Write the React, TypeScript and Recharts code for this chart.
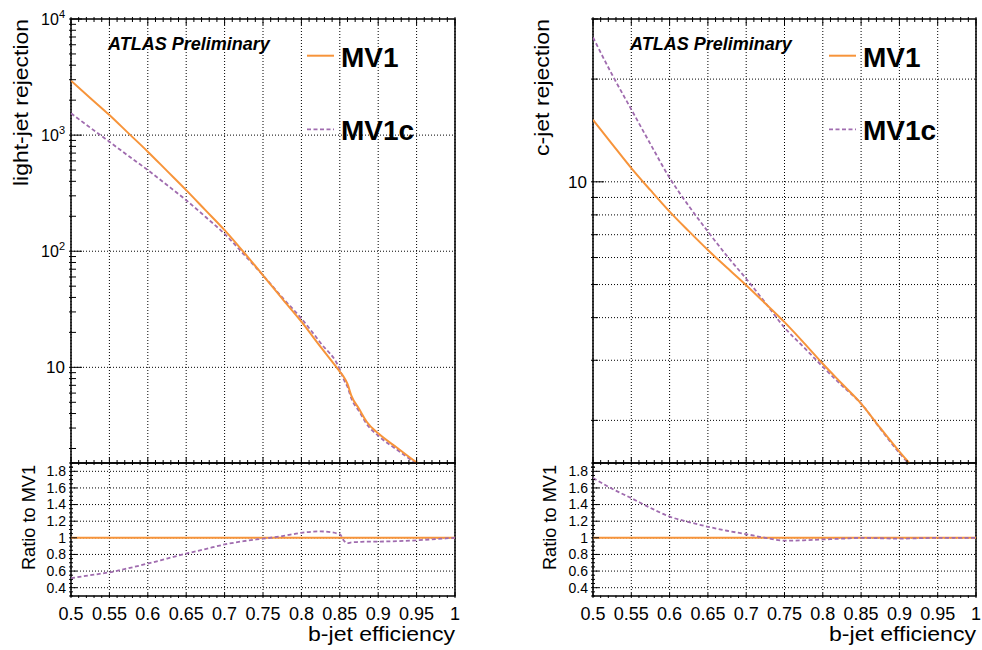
import { CartesianGrid, Line, LineChart, ReferenceArea, XAxis, YAxis } from "recharts"

const FONT = "'Liberation Sans', Arial, Helvetica, sans-serif"
const ORANGE = "#f7943a"
const PURPLE = "#a06caf"
const DASH = "4 2.5"
const GRID_DASH = "1 2"

const seriesNames = ["MV1", "MV1c"]

// light-jet rejection vs b-jet efficiency
const lightEff = [
  0.5, 0.525, 0.55, 0.575, 0.6, 0.625, 0.65, 0.675, 0.7, 0.725, 0.75, 0.775, 0.8,
  0.825, 0.85, 0.855, 0.86, 0.865, 0.875, 0.885, 0.9, 0.925, 0.95, 0.975, 1.0,
]
const lightMV1 = [
  2940, 2090, 1490, 1035, 720, 492, 336, 226, 152, 98, 62, 39, 24.7, 15, 9.2, 8.3,
  7.2, 5.7, 4.4, 3.4, 2.7, 2.02, 1.52, 1.2, 1.0,
]
const lightMV1c = [
  1540, 1160, 877, 660, 500, 372, 275, 198, 141, 94, 62, 40, 26.3, 16.2, 9.6, 7.9,
  6.8, 5.4, 4.2, 3.25, 2.58, 1.94, 1.48, 1.18, 1.0,
]
const lightRatioMV1 = [
  1, 1, 1, 1, 1, 1, 1, 1, 1, 1, 1, 1, 1, 1, 1, 1, 1, 1, 1, 1, 1, 1, 1, 1, 1,
]
const lightRatioMV1c = [
  0.515, 0.55, 0.585, 0.635, 0.69, 0.75, 0.81, 0.865, 0.92, 0.96, 0.99, 1.02, 1.06,
  1.077, 1.045, 0.97, 0.935, 0.945, 0.95, 0.955, 0.955, 0.96, 0.97, 0.985, 1.0,
]

// c-jet rejection vs b-jet efficiency
const charmEff = [
  0.5, 0.525, 0.55, 0.575, 0.6, 0.625, 0.65, 0.675, 0.7, 0.725, 0.75, 0.775, 0.8,
  0.825, 0.85, 0.875, 0.9, 0.925, 0.95, 0.975, 1.0,
]
const charmMV1 = [
  15.2, 12.9, 10.97, 9.45, 8.18, 7.17, 6.31, 5.6, 4.98, 4.4, 3.88, 3.38, 2.93, 2.56,
  2.24, 1.9, 1.62, 1.4, 1.22, 1.1, 1.0,
]
const charmMV1c = [
  26.5, 20.6, 16.3, 12.9, 10.27, 8.5, 7.15, 6.06, 5.2, 4.42, 3.74, 3.28, 2.87, 2.53,
  2.24, 1.89, 1.605, 1.39, 1.22, 1.1, 1.0,
]
const charmRatioMV1 = [1, 1, 1, 1, 1, 1, 1, 1, 1, 1, 1, 1, 1, 1, 1, 1, 1, 1, 1, 1, 1]
const charmRatioMV1c = [
  1.72, 1.59, 1.477, 1.36, 1.255, 1.19, 1.133, 1.085, 1.044, 1.0, 0.965, 0.97, 0.98,
  0.99, 1.0, 0.995, 0.99, 0.995, 1.0, 1.0, 1.0,
]

// axis ticks
const effMajor = [0.5, 0.55, 0.6, 0.65, 0.7, 0.75, 0.8, 0.85, 0.9, 0.95, 1]
const effTicks = effMajor.flatMap((m, i) =>
  i === effMajor.length - 1
    ? [m]
    : [0, 0.01, 0.02, 0.03, 0.04].map((d) => +(m + d).toFixed(2))
)
const lightMajor = [10, 100, 1000, 10000]
const lightTicks = [1, 10, 100, 1000]
  .flatMap((d) => [2, 3, 4, 5, 6, 7, 8, 9].map((k) => k * d))
  .concat(lightMajor)
  .filter((v) => v >= 1.5 && v <= 10000)
const charmMajor = [10]
const charmTicks = [2, 3, 4, 5, 6, 7, 8, 9, 10, 20, 30]
const ratioMajor = [0.4, 0.6, 0.8, 1, 1.2, 1.4, 1.6, 1.8]
const ratioTicks = ratioMajor
  .flatMap((m) => [-0.1, -0.05, 0, 0.05].map((d) => +(m + d).toFixed(2)))
  .concat([1.85, 1.9])

const lightData = lightEff.map((eff, i) => ({
  eff,
  mv1: lightMV1[i],
  mv1c: lightMV1c[i],
  r1: lightRatioMV1[i],
  rc: lightRatioMV1c[i],
}))
const charmData = charmEff.map((eff, i) => ({
  eff,
  mv1: charmMV1[i],
  mv1c: charmMV1c[i],
  r1: charmRatioMV1[i],
  rc: charmRatioMV1c[i],
}))

const isEffMajor = (v: number) => Math.abs(v * 20 - Math.round(v * 20)) < 1e-6
const fmtEff = (v: number) => String(Number(v.toFixed(2)))

function xTick(up: boolean, major: number, minor: number, labels: boolean) {
  return (props: any) => {
    const x = Number(props.x)
    const y = Number(props.y)
    const v = props.payload.value as number
    const big = isEffMajor(v)
    const len = big ? major : minor
    return (
      <g>
        <path d={`M${x},${y}V${up ? y - len : y + len}`} stroke="#000" strokeWidth={1} fill="none" />
        {labels && big && (
          <text x={x} y={y + 22} textAnchor="middle" fontSize={18} fontFamily={FONT} fill="#000">
            {fmtEff(v)}
          </text>
        )}
      </g>
    )
  }
}

function powLabel(v: number, x: number, y: number) {
  const n = Math.round(Math.log10(v))
  if (n === 1)
    return (
      <text x={x} y={y} dy="0.35em" textAnchor="end" fontSize={17} fontFamily={FONT} fill="#000">
        10
      </text>
    )
  return (
    <text x={x} y={y} dy="0.35em" textAnchor="end" fontSize={16} fontFamily={FONT} fill="#000">
      10
      <tspan dy={-7} fontSize={11}>
        {n}
      </tspan>
    </text>
  )
}

function logTick(majors: number[]) {
  return (props: any) => {
    const x = Number(props.x)
    const y = Number(props.y)
    const v = props.payload.value as number
    const big = majors.includes(v)
    return (
      <g>
        <path d={`M${x},${y}H${x + (big ? 13 : 7)}`} stroke="#000" strokeWidth={1} fill="none" />
        {big && powLabel(v, x - 4, y)}
      </g>
    )
  }
}

function ratioTick(props: any) {
  const x = Number(props.x)
  const y = Number(props.y)
  const v = props.payload.value as number
  const big = ratioMajor.some((m) => Math.abs(m - v) < 1e-6)
  return (
    <g>
      <path d={`M${x},${y}H${x + (big ? 8 : 4)}`} stroke="#000" strokeWidth={1} fill="none" />
      {big && (
        <text x={x - 3} y={y} dy="0.35em" textAnchor="end" fontSize={14} fontFamily={FONT} fill="#000">
          {String(v)}
        </text>
      )}
    </g>
  )
}

type PanelProps = {
  left: number
  width: number
  axisWidth: number
  marginRight: number
  data: Record<string, number>[]
}

function RejectionPanel({
  left,
  width,
  axisWidth,
  marginRight,
  data,
  domain,
  ticks,
  majors,
  grid,
}: PanelProps & { domain: [number, number]; ticks: number[]; majors: number[]; grid: number[] }) {
  return (
    <div style={{ position: "absolute", left, top: 0 }}>
      <LineChart width={width} height={470} data={data} margin={{ top: 18, right: marginRight, bottom: 6, left: 0 }}>
        <CartesianGrid
          stroke="#000"
          strokeDasharray={GRID_DASH}
          horizontalValues={grid}
          verticalValues={effMajor}
        />
        <XAxis
          dataKey="eff"
          type="number"
          domain={[0.5, 1]}
          ticks={effTicks}
          interval={0}
          height={1}
          tickSize={0}
          tickLine={false}
          axisLine={false}
          tick={xTick(true, 8, 5, false)}
          allowDataOverflow
        />
        <XAxis
          xAxisId="top"
          orientation="top"
          dataKey="eff"
          type="number"
          domain={[0.5, 1]}
          ticks={effTicks}
          interval={0}
          height={1}
          tickSize={0}
          tickLine={false}
          axisLine={false}
          tick={xTick(false, 8, 5, false)}
          allowDataOverflow
        />
        <YAxis
          scale="log"
          type="number"
          domain={domain}
          ticks={ticks}
          interval={0}
          width={axisWidth}
          tickSize={0}
          tickLine={false}
          axisLine={false}
          tick={logTick(majors)}
          allowDataOverflow
        />
        <ReferenceArea x1={0.5} x2={1} y1={domain[0]} y2={domain[1]} stroke="#000" strokeWidth={1.5} fill="none" fillOpacity={0} />
        <Line dataKey="mv1c" name={seriesNames[1]} type="monotone" stroke={PURPLE} strokeWidth={1.8} strokeDasharray={DASH} dot={false} isAnimationActive={false} />
        <Line dataKey="mv1" name={seriesNames[0]} type="monotone" stroke={ORANGE} strokeWidth={2} dot={false} isAnimationActive={false} />
      </LineChart>
    </div>
  )
}

function RatioPanel({ left, width, axisWidth, marginRight, data }: PanelProps) {
  return (
    <div style={{ position: "absolute", left, top: 455 }}>
      <LineChart width={width} height={195} data={data} margin={{ top: 8, right: marginRight, bottom: 0, left: 0 }}>
        <CartesianGrid
          stroke="#000"
          strokeDasharray={GRID_DASH}
          horizontalValues={ratioMajor}
          verticalValues={effMajor}
        />
        <XAxis
          dataKey="eff"
          type="number"
          domain={[0.5, 1]}
          ticks={effTicks}
          interval={0}
          height={54}
          tickSize={0}
          tickLine={false}
          axisLine={false}
          tick={xTick(true, 5, 2.5, true)}
          allowDataOverflow
        />
        <YAxis
          type="number"
          domain={[0.3, 1.9]}
          ticks={ratioTicks}
          interval={0}
          width={axisWidth}
          tickSize={0}
          tickLine={false}
          axisLine={false}
          tick={ratioTick}
          allowDataOverflow
        />
        <ReferenceArea x1={0.5} x2={1} y1={0.3} y2={1.9} stroke="#000" strokeWidth={1.5} fill="none" fillOpacity={0} />
        <Line dataKey="r1" name={seriesNames[0]} type="monotone" stroke={ORANGE} strokeWidth={2} dot={false} isAnimationActive={false} />
        <Line dataKey="rc" name={seriesNames[1]} type="monotone" stroke={PURPLE} strokeWidth={1.8} strokeDasharray={DASH} dot={false} isAnimationActive={false} />
      </LineChart>
    </div>
  )
}

const panels = [
  { plotLeft: 71, plotRight: 455, title: "light-jet rejection", titleLen: 167, titleX: 28 },
  { plotLeft: 593, plotRight: 976, title: "c-jet rejection", titleLen: 137, titleX: 549 },
]
const legendStyles = [
  { color: ORANGE, dash: undefined as string | undefined, width: 2 },
  { color: PURPLE, dash: DASH, width: 1.8 },
]

function Overlay() {
  return (
    <svg width={982} height={650} style={{ position: "absolute", left: 0, top: 0, pointerEvents: "none" }} fontFamily={FONT}>
      {panels.map((p) => (
        <g key={p.title}>
          <text
            transform={`translate(${p.titleX},19) rotate(-90)`}
            textAnchor="end"
            fontSize={20}
            textLength={p.titleLen}
            lengthAdjust="spacingAndGlyphs"
          >
            {p.title}
          </text>
          <text
            transform={`translate(${p.titleX + 7},465) rotate(-90)`}
            textAnchor="end"
            fontSize={18}
            textLength={105}
            lengthAdjust="spacingAndGlyphs"
          >
            Ratio to MV1
          </text>
          <text
            x={p.plotRight}
            y={641}
            textAnchor="end"
            fontSize={20}
            textLength={147}
            lengthAdjust="spacingAndGlyphs"
          >
            b-jet efficiency
          </text>
          <text x={p.plotLeft + 37} y={49.5} fontSize={18} fontWeight="bold" fontStyle="italic">
            ATLAS Preliminary
          </text>
          {seriesNames.map((name, i) => {
            const ly = i === 0 ? 55.7 : 129.3
            const s = legendStyles[i]
            return (
              <g key={name}>
                <path
                  d={`M${p.plotLeft + 236},${ly}H${p.plotLeft + 263}`}
                  stroke={s.color}
                  strokeWidth={s.width}
                  strokeDasharray={s.dash}
                  fill="none"
                />
                <text x={p.plotLeft + 270} y={ly + 11} fontSize={28} fontWeight="bold">
                  {name}
                </text>
              </g>
            )
          })}
        </g>
      ))}
    </svg>
  )
}

export default function App() {
  return (
    <div style={{ position: "absolute", left: 0, top: 0, width: 982, height: 650, background: "#fff", overflow: "hidden" }}>
      <RejectionPanel
        left={0}
        width={470}
        axisWidth={71}
        marginRight={15}
        data={lightData}
        domain={[1.5, 10000]}
        ticks={lightTicks}
        majors={lightMajor}
        grid={[10, 100, 1000]}
      />
      <RejectionPanel
        left={520}
        width={462}
        axisWidth={73}
        marginRight={6}
        data={charmData}
        domain={[1.5, 30]}
        ticks={charmTicks}
        majors={charmMajor}
        grid={[2, 3, 4, 5, 6, 7, 8, 9, 10, 20]}
      />
      <RatioPanel left={0} width={470} axisWidth={71} marginRight={15} data={lightData} />
      <RatioPanel left={520} width={462} axisWidth={73} marginRight={6} data={charmData} />
      <Overlay />
    </div>
  )
}
